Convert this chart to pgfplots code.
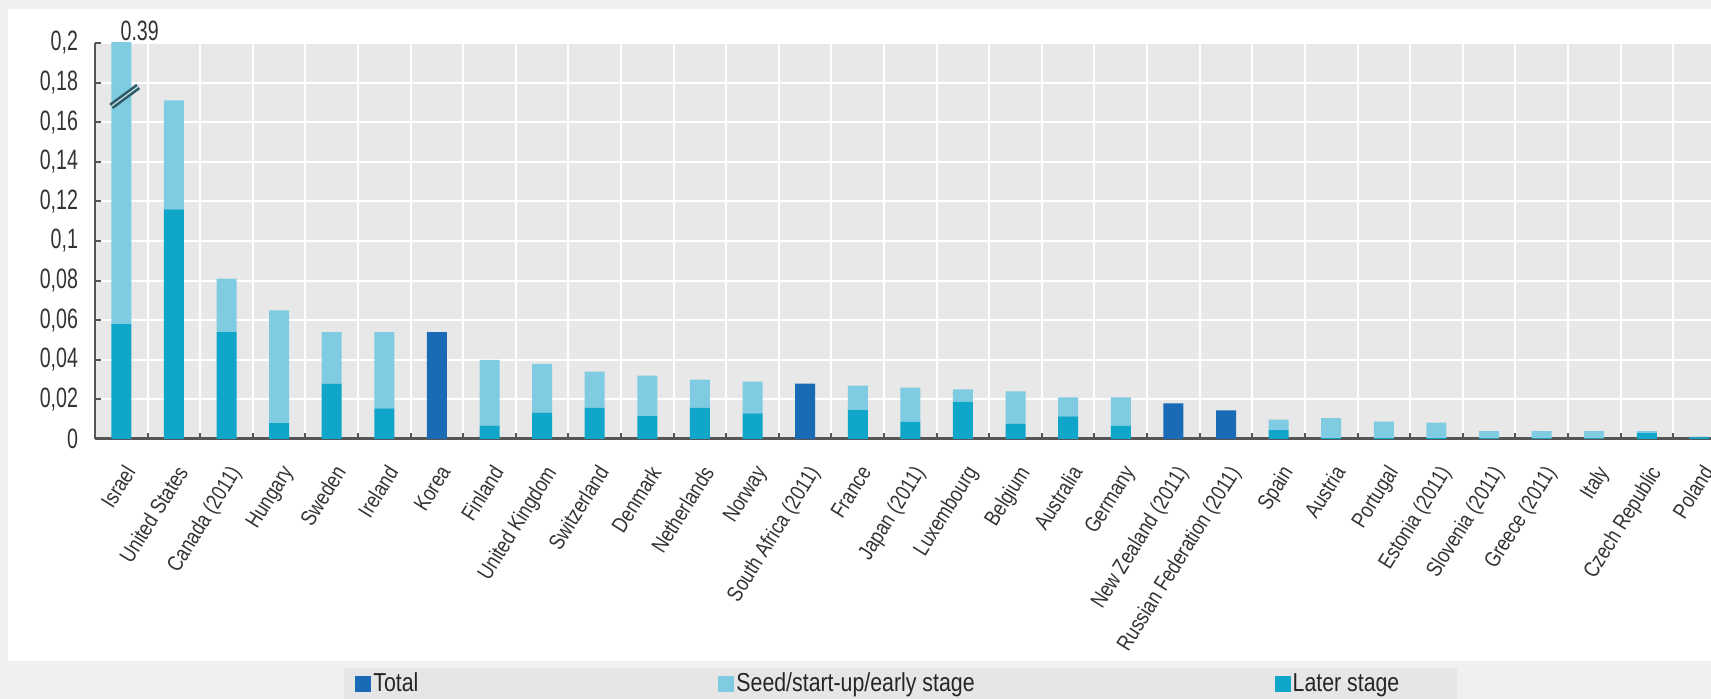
\documentclass[border=0pt]{standalone}
\usepackage{pgfplots}
\pgfplotsset{compat=1.18}
\usepackage{pgfplotstable}
\usepackage{fontspec}
\setmainfont{Liberation Sans}[FakeStretch=0.82]
\newfontfamily\narrowfont{Liberation Sans}[FakeStretch=0.7]

\definecolor{totalc}{HTML}{1A6BB5}
\definecolor{seedc}{HTML}{7FCCE2}
\definecolor{laterc}{HTML}{10A6CA}
\definecolor{plotbg}{HTML}{E8E8E8}
\definecolor{outerbg}{HTML}{F0F0F0}
\definecolor{legbg}{HTML}{E6E6E6}
\definecolor{axisc}{HTML}{555555}
\definecolor{txtc}{HTML}{333333}
\definecolor{breakc}{HTML}{2F5A66}

\pgfplotstableread{
x later seed total
0 0.058 0.332 0
1 0.116 0.055 0
2 0.054 0.027 0
3 0.008 0.057 0
4 0.028 0.026 0
5 0.0155 0.0385 0
6 0 0 0.054
7 0.0068 0.0332 0
8 0.0133 0.0247 0
9 0.0157 0.0183 0
10 0.0116 0.0204 0
11 0.0157 0.0143 0
12 0.0129 0.0161 0
13 0 0 0.028
14 0.0146 0.0124 0
15 0.0086 0.0174 0
16 0.0187 0.0063 0
17 0.0078 0.0162 0
18 0.0114 0.0096 0
19 0.0066 0.0144 0
20 0 0 0.018
21 0 0 0.0145
22 0.0045 0.0053 0
23 0.0005 0.0100 0
24 0.0005 0.0083 0
25 0.0005 0.0078 0
26 0.0003 0.0037 0
27 0.0003 0.0037 0
28 0.0003 0.0037 0
29 0.003 0.001 0
30 0.0008 0.0004 0
}\data

\begin{document}
\begin{tikzpicture}
\fill[outerbg] (0,0) rectangle (855.5pt,349.5pt);
\fill[white] (4pt,19pt) rectangle (855.5pt,345pt);
\fill[legbg] (172pt,0pt) rectangle (728.5pt,15.5pt);
\begin{axis}[
  at={(47.5pt,130pt)}, anchor=south west,
  scale only axis, width=808pt, height=198pt,
  xmin=-0.5, xmax=30.22, ymin=0, ymax=0.2,
  clip mode=individual,
  axis background/.style={fill=plotbg},
  axis x line*=bottom, axis y line*=left,
  x axis line style={axisc, line width=1.5pt},
  y axis line style={axisc, line width=0.8pt},
  tick align=inside, major tick length=3pt,
  tick style={axisc, line width=1pt},
  xmajorgrids, ymajorgrids,
  major grid style={white, line width=1pt},
  xtick={0.5,1.5,...,29.5}, xticklabels={},
  extra x ticks={0,1,...,30},
  extra x tick labels={Israel,United States,Canada (2011),Hungary,Sweden,Ireland,Korea,Finland,United Kingdom,Switzerland,Denmark,Netherlands,Norway,South Africa (2011),France,Japan (2011),Luxembourg,Belgium,Australia,Germany,New Zealand (2011),Russian Federation (2011),Spain,Austria,Portugal,Estonia (2011),Slovenia (2011),Greece (2011),Italy,Czech Republic,Poland},
  extra x tick style={grid=none, major tick length=0pt,
    xticklabel style={rotate=58, anchor=north east, inner sep=1pt, yshift=-6pt, xshift=-9pt,
      font=\fontsize{11pt}{12pt}\selectfont, text=txtc}},
  ytick={0,0.02,0.04,0.06,0.08,0.1,0.12,0.14,0.16,0.18,0.2},
  yticklabels={0,{0,02},{0,04},{0,06},{0,08},{0,1},{0,12},{0,14},{0,16},{0,18},{0,2}},
  yticklabel style={font=\narrowfont\fontsize{14pt}{15pt}\selectfont, text=txtc, xshift=-5pt},
  ybar stacked, bar width=10pt,
  reverse legend,
  legend columns=3,
  legend style={at={(axis description cs:0.1609,-0.6187)}, anchor=west,
    draw=none, fill=none, inner sep=0pt,
    font=\fontsize{13pt}{14pt}\selectfont, text=black!85,
    nodes={inner xsep=1pt, inner ysep=0pt},
    /tikz/every even column/.append style={column sep=149pt}},
]
\addplot[fill=laterc, draw=none, legend image code/.code={\fill[laterc] (0pt,-4pt) rectangle (8pt,4pt);}] table[x=x,y=later]{\data};
\addlegendentry{Later stage}
\addplot[fill=seedc, draw=none, legend image code/.code={\fill[seedc] (0pt,-4pt) rectangle (8pt,4pt);}] table[x=x,y=seed]{\data};
\addlegendentry{Seed/start-up/early stage}
\addplot[fill=totalc, draw=none, legend image code/.code={\fill[totalc] (0pt,-4pt) rectangle (8pt,4pt);}] table[x=x,y=total]{\data};
\addlegendentry{Total}
\node[anchor=south, inner sep=1pt, font=\narrowfont\fontsize{14pt}{15pt}\selectfont, text=txtc] at (axis cs:0.35,0.2) {0.39};
\coordinate (brA) at (axis cs:-0.19,0.168);
\coordinate (brB) at (axis cs:0.32,0.178);
\end{axis}
\draw[line width=3.2pt, color=breakc] (brA) -- (brB);
\draw[line width=0.6pt, color=seedc!50!white] (brA) -- (brB);
\pgfresetboundingbox
\useasboundingbox (0,0) rectangle (855.5pt,349.5pt);
\end{tikzpicture}
\end{document}
